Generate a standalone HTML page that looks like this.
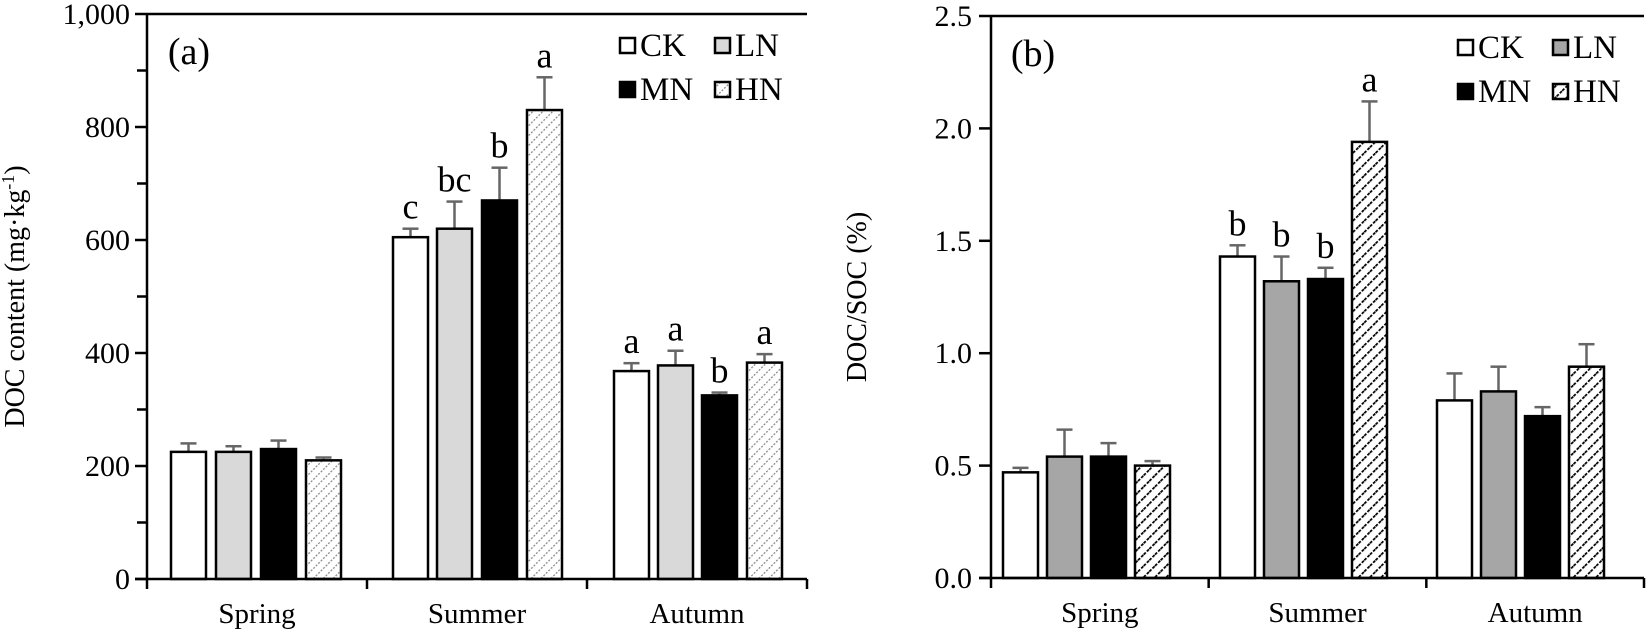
<!DOCTYPE html>
<html><head><meta charset="utf-8"><style>html,body{margin:0;padding:0;background:#fff}svg{display:block}</style></head>
<body>
<svg id="s" width="1650" height="639" xmlns="http://www.w3.org/2000/svg" font-family="Liberation Serif, serif">
<defs>
<pattern id="ha" width="7" height="7" patternUnits="userSpaceOnUse" patternTransform="rotate(45)">
<rect width="7" height="7" fill="#fff"/><line x1="0" y1="0" x2="0" y2="7" stroke="#888" stroke-width="2.5" stroke-dasharray="2,1.5"/></pattern>
<pattern id="hb" width="8" height="8" patternUnits="userSpaceOnUse" patternTransform="rotate(45)">
<rect width="8" height="8" fill="#fff"/><line x1="0" y1="0" x2="0" y2="8" stroke="#000" stroke-width="3.5" stroke-dasharray="3,1.5"/></pattern>
</defs>
</svg>
<script>
const s=document.getElementById('s');let h='';
function L(x1,y1,x2,y2,c='#000',w=2.5){h+=`<line x1="${x1}" y1="${y1}" x2="${x2}" y2="${y2}" stroke="${c}" stroke-width="${w}"/>`}
function T(x,y,t,sz,a='middle',extra=''){h+=`<text x="${x}" y="${y}" font-size="${sz}" text-anchor="${a}" ${extra}>${t}</text>`}
function panel(P){
 const {ax,right,top,zero,max,fills,vals,errs,letters,ticks,minor,fmt,starts,lblx,title,titlex,tag}=P;
 const sc=(zero-top)/max;const Y=v=>zero-v*sc;
 for(let g=0;g<3;g++)for(let i=0;i<4;i++){
  const x=starts[g][i],w=35,v=vals[g][i],e=errs[g][i];
  L(x+w/2,Y(v),x+w/2,Y(e),'#666',2.5);L(x+w/2-8,Y(e),x+w/2+8,Y(e),'#666',2.5);
  h+=`<rect x="${x}" y="${Y(v)}" width="${w}" height="${zero-Y(v)}" fill="${fills[i]}" stroke="#000" stroke-width="2.5"/>`;
  if(letters[g][i])T(x+w/2,Y(e)-10,letters[g][i],36);
 }
 L(ax,top,right,top);L(ax,top,ax,zero);L(ax-12,zero,right,zero);
 for(const t of minor)L(ax-10,Y(t),ax,Y(t));
 for(const t of ticks){L(ax-12,Y(t),ax,Y(t));T(lblx,Y(t)+10,fmt(t),30,'end');}
 const gw=(right-ax)/3;
 for(let g=0;g<=3;g++)L(ax+g*gw,zero,ax+g*gw,zero+10);
 ['Spring','Summer','Autumn'].forEach((n,g)=>T(ax+gw*(g+0.5),zero+44,n,29));
 T(ax+42,top+50,tag,38,'middle');
 h+=`<text transform="translate(${titlex},${(top+zero)/2}) rotate(-90)" font-size="28" text-anchor="middle">${title}</text>`;
 const lx=P.legx,ly=top+24;const lab=['CK','LN','MN','HN'];
 for(let i=0;i<4;i++){const x=lx+(i%2)*95,y=ly+(i>>1)*44;
  h+=`<rect x="${x}" y="${y}" width="15" height="15" fill="${fills[i]}" stroke="#000" stroke-width="2.5"/>`;
  T(x+20,y+18,lab[i],33,'start');}
}
panel({ax:147,right:807,top:14,zero:579,max:1000,legx:620,
 fills:['#fff','#d9d9d9','#000','url(#ha)'],
 vals:[[225,225,230,210],[605,620,670,830],[368,378,325,383]],
 errs:[[240,235,245,215],[620,668,728,888],[382,404,330,398]],
 letters:[['','','',''],['c','bc','b','a'],['a','a','b','a']],
 ticks:[0,200,400,600,800,1000],minor:[100,300,500,700,900],fmt:t=>t>=1000?'1,000':String(t),
 starts:[[171,216,261,306],[393,437,482,527],[614,658,702,747]],lblx:130,title:'DOC content (mg·kg<tspan baseline-shift="super" font-size="18">-1</tspan>)',titlex:24,tag:'(a)'});
panel({ax:991,right:1644,top:16,zero:578,max:2.5,legx:1458,
 fills:['#fff','#a6a6a6','#000','url(#hb)'],
 vals:[[0.47,0.54,0.54,0.50],[1.43,1.32,1.33,1.94],[0.79,0.83,0.72,0.94]],
 errs:[[0.49,0.66,0.60,0.52],[1.48,1.43,1.38,2.12],[0.91,0.94,0.76,1.04]],
 letters:[['','','',''],['b','b','b','a'],['','','','']],
 ticks:[0,0.5,1,1.5,2,2.5],minor:[],fmt:t=>t.toFixed(1),
 starts:[[1003,1047,1091,1135],[1220,1264,1308,1352],[1437,1481,1525,1569]],lblx:972,title:'DOC/SOC (%)',titlex:866,tag:'(b)'});
s.insertAdjacentHTML('beforeend',h);
</script>
</body></html>
